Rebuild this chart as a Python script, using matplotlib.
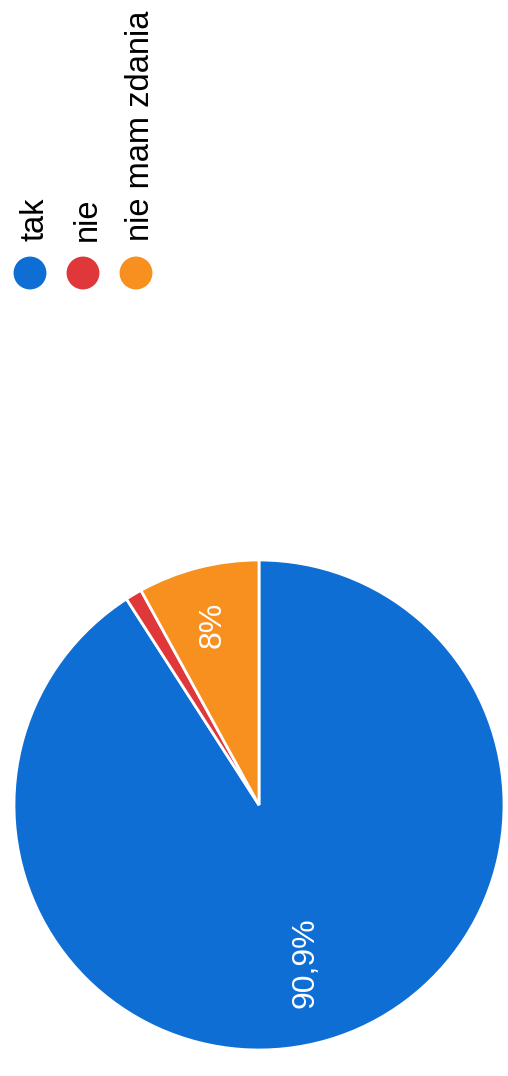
import numpy as np
import matplotlib
matplotlib.use("Agg")
import matplotlib.pyplot as plt

# Data
categories = ["tak", "nie", "nie mam zdania"]
shares = [90.9, 1.1, 8.0]
pct_labels = ["90,9%", "", "8%"]
colors = ["#0f6ed4", "#e0383a", "#f7901e"]

plt.rcParams['font.family'] = ['Liberation Sans', 'DejaVu Sans']

W, H = 508, 1076
fig = plt.figure(figsize=(W / 100, H / 100), dpi=100)

# pie axes (pixel box: centre ~ (259, 805), radius ~245)
cx, cy, r = 259, 805, 245
ax = fig.add_axes([(cx - r) / W, (H - cy - r) / H, 2 * r / W, 2 * r / H])
wedges, _ = ax.pie(shares, colors=colors, startangle=90, counterclock=False,
                   wedgeprops=dict(edgecolor="white", linewidth=2))
ax.set_xlim(-1, 1)
ax.set_ylim(-1, 1)
ax.set_aspect("equal")
ax.axis("off")

# percentage labels, rotated like the rest of the chart
label_dist = [0.67, 0.0, 0.76]
for w, txt, d in zip(wedges, pct_labels, label_dist):
    if not txt:
        continue
    ang = np.deg2rad((w.theta1 + w.theta2) / 2)
    ax.text(d * np.cos(ang), d * np.sin(ang), txt, rotation=90,
            ha="center", va="center", color="white", fontsize=23)

# legend drawn in pixel coordinates
lax = fig.add_axes([0, 0, 1, 1])
lax.set_xlim(0, W)
lax.set_ylim(H, 0)
lax.axis("off")
for i, (cat, col) in enumerate(zip(categories, colors)):
    x = 30 + i * 53
    lax.scatter([x], [273], s=560, color=col, edgecolor="none")
    lax.text(x + 13, 241, cat, rotation=90, rotation_mode="anchor",
             ha="left", va="baseline", fontsize=23.5, color="black")

fig.savefig("out.png", dpi=100)
